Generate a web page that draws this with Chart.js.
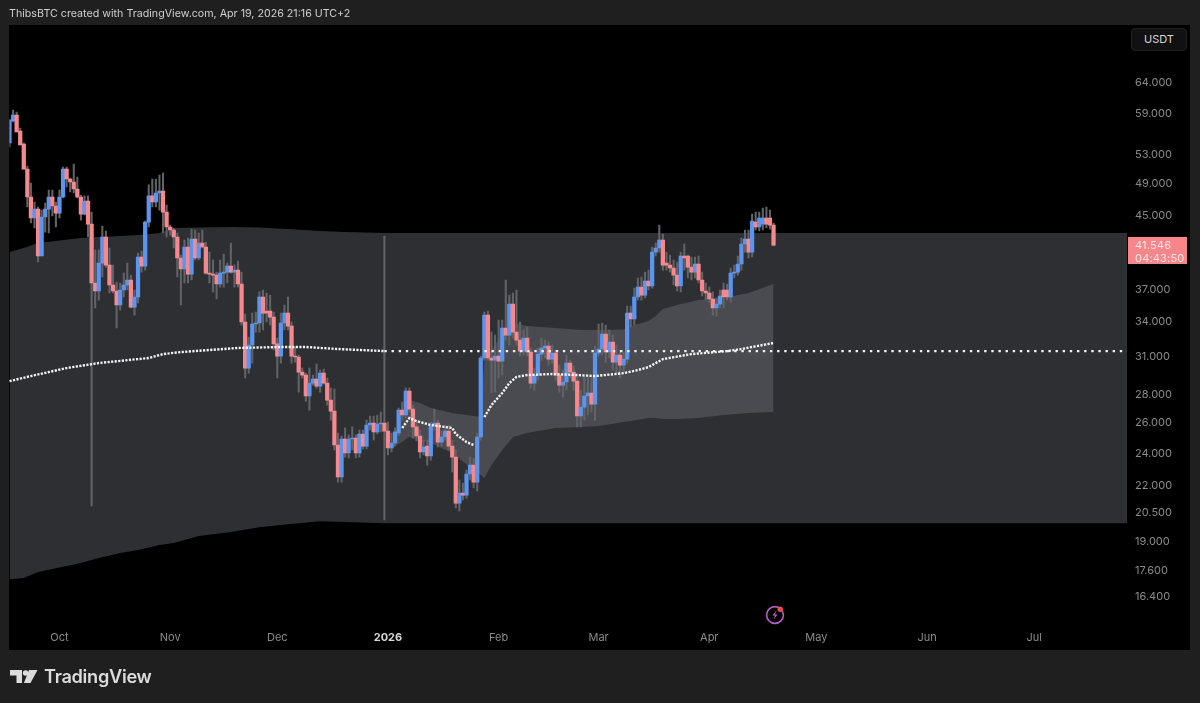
<!DOCTYPE html>
<html>
<head>
<meta charset="utf-8">
<title>ThibsBTC chart</title>
<script src="https://cdn.jsdelivr.net/npm/chart.js@4"></script>
<style>
  html, body { margin: 0; padding: 0; background: #1f1f1f; overflow: hidden; }
  body { width: 1200px; height: 703px; position: relative; font-family: Inter, "Noto Sans", sans-serif; }
  #pane { position: absolute; left: 9px; top: 25px; width: 1181px; height: 625px; background: #000; }
  #levelChart { position: absolute; left: 0; top: 0; }
  #header { position: absolute; left: 9px; top: 6px; font-size: 10.7px; line-height: 15px; color: #cfcfcf; white-space: nowrap; }
  #unit { position: absolute; left: 1131px; top: 28px; width: 54px; height: 21px; line-height: 21px; text-align: center; box-sizing: content-box;
          border: 1px solid #202020; border-radius: 4px; background: #111; color: #d6d6d6; font-size: 11px; }
  #lastPrice { position: absolute; left: 1128px; top: 237px; width: 59px; height: 27px; background: #f7868a; color: #ffe4e5;
               font-size: 11px; line-height: 13px; padding: 2px 0 0 7px; box-sizing: border-box; letter-spacing: 0.2px; white-space: nowrap; }
  #brand { position: absolute; left: 44px; top: 664px; font-size: 18.2px; line-height: 24px; font-weight: 600; color: #dcdcdc; letter-spacing: -0.3px; }
  #logo { position: absolute; left: 10px; top: 669px; }
  #bolt { position: absolute; left: 763px; top: 603px; }
</style>
</head>
<body>
<div id="pane"></div>
<canvas id="levelChart" width="1200" height="703"></canvas>
<div id="header">ThibsBTC created with TradingView.com, Apr 19, 2026 21:16 UTC+2</div>
<div id="unit">USDT</div>
<div id="lastPrice">41.546<br>04:43:50</div>
<svg id="logo" width="28" height="15" viewBox="0 0 28 15">
  <path d="M0 1h12v13H6.5V6.5H0z" fill="#dcdcdc"/>
  <circle cx="15.6" cy="4" r="2.8" fill="#dcdcdc"/>
  <path d="M19 1h8.5L20.5 14h-6.6z" fill="#dcdcdc"/>
</svg>
<div id="brand">TradingView</div>
<svg id="bolt" width="24" height="24" viewBox="0 0 24 24">
  <circle cx="12" cy="12" r="8.4" fill="none" stroke="#b45fc8" stroke-width="1.6"/>
  <path d="M13.4 7.5 9.4 12.6h2.6l-1.4 4 4-5.1H12z" fill="#b45fc8"/>
  <circle cx="17.2" cy="6.2" r="2.7" fill="#f0484c"/>
</svg>

<script>
(function () {
  "use strict";

  var opens = [
    54460, 57720, 58640, 56210, 54310, 50820, 47200, 44640, 45710, 40370,
    44760, 45710, 47200, 46080, 45230, 47200, 50820, 49500, 49110, 48210,
    47200, 45110, 46700, 43930, 37580, 36790, 39620, 42450, 39410, 37380,
    36790, 35450, 36890, 37380, 37880, 35260, 36210, 40260, 39300, 44160,
    47330, 46570, 47700, 47950, 45350, 43590, 43240, 42450, 40150, 39000,
    41340, 38480, 42220, 40150, 41780, 41340, 38580, 38480, 38380, 37480,
    38580, 38680, 39300, 38680, 38890, 37480, 33890, 30000, 31890, 33710,
    33800, 36210, 34890, 34890, 34340, 31980, 30970, 33800, 34700, 33530,
    30970, 30890, 29680, 29450, 27860, 28830, 29140, 28600, 29600, 28830,
    27560, 26770, 24470, 22480, 24860, 23960, 24860, 24920, 23960, 25190,
    24400, 25800, 25940, 25330, 25870, 25940, 25390, 24280, 24600, 25260,
    26840, 26490, 28230, 26910, 25670, 25060, 24020, 24400, 23770, 25730,
    25940, 24660, 24990, 25390, 24400, 23700, 20980, 21550, 21430, 22660,
    23200, 22180, 24990, 30810, 34520, 30810, 30640, 30970, 30560, 33360,
    32740, 35540, 33000, 32310, 31380, 32480, 31300, 28830, 29450, 31130,
    31640, 31800, 30720, 31210, 29450, 28680, 28910, 30400, 29680, 28980,
    26420, 27050, 27860, 28080, 27270, 31210, 31550, 32830, 31300, 32140,
    30480, 31050, 30240, 30720, 34700, 34160, 36210, 37180, 36400, 37780,
    37280, 40790, 41230, 42110, 39620, 39410, 39100, 38380, 37280, 40370,
    40370, 39190, 38680, 39520, 37880, 36790, 36600, 36020, 35170, 35540,
    36890, 36890, 36210, 38580, 38680, 39520, 41670, 42220, 40790, 44160,
    43590, 43930, 44640, 44640, 43810
  ];
  var highs = [
    58020, 59420, 59110, 56660, 54460, 51230, 48980, 46570, 45960, 45590,
    46450, 48080, 48080, 46570, 48080, 51100, 51100, 49630, 51500, 49760,
    47450, 47330, 47330, 45350, 41010, 41010, 43700, 43130, 41230, 39410,
    37680, 37580, 38580, 39620, 38380, 36890, 40690, 40900, 44280, 48730,
    49500, 49500, 50030, 50290, 46200, 43810, 43470, 42900, 40470, 42110,
    42330, 43350, 43240, 42900, 43240, 41890, 40790, 39940, 38680, 39940,
    40580, 39620, 41780, 39410, 39840, 38680, 34610, 32570, 34700, 34800,
    36700, 36890, 36600, 36400, 34800, 32480, 34700, 35450, 36210, 33890,
    31720, 31050, 30000, 29600, 30000, 29450, 30320, 29840, 29920, 29220,
    28450, 28380, 25260, 25060, 25600, 25130, 25670, 25130, 25460, 25460,
    26140, 26420, 26420, 26490, 26700, 42560, 26000, 25260, 25600, 26980,
    27420, 28450, 28450, 27200, 26000, 25460, 24790, 24790, 26000, 26910,
    26140, 25390, 25800, 25800, 24790, 24150, 22300, 22120, 22900, 23700,
    23640, 25260, 30970, 34800, 34890, 33000, 32740, 34070, 34070, 37880,
    36400, 36600, 36890, 33890, 33180, 33450, 31640, 30000, 31640, 32480,
    32310, 32140, 31890, 31470, 30240, 29840, 31050, 30640, 30160, 29450,
    28300, 29300, 29370, 29300, 31800, 33710, 33800, 33620, 33180, 32740,
    31890, 31470, 31300, 35360, 35360, 37080, 38080, 38180, 38680, 38890,
    41340, 41780, 43810, 42780, 40790, 40470, 39940, 39730, 40790, 41670,
    40470, 40260, 40260, 40370, 38680, 37580, 37180, 36700, 36120, 36890,
    37580, 37480, 39100, 39410, 40370, 42330, 43240, 43240, 45110, 45350,
    45350, 45840, 45960, 45590, 44050
  ];
  var lows = [
    53880, 57570, 56070, 54170, 50820, 45960, 44050, 43470, 39730, 40370,
    43010, 42900, 44880, 43590, 44640, 47070, 48470, 47830, 47700, 47070,
    44400, 45000, 42450, 20820, 35170, 35920, 38180, 39190, 36600, 36600,
    33360, 34980, 36210, 36890, 35170, 34520, 35640, 38680, 38890, 43590,
    45960, 45960, 45590, 42900, 42450, 42670, 41230, 38180, 35450, 37580,
    37580, 37880, 39940, 39940, 41230, 38480, 37580, 36700, 36020, 37180,
    37180, 37580, 38580, 37180, 37180, 33620, 29220, 29600, 30400, 33000,
    33000, 33180, 33890, 33620, 31470, 29220, 30400, 33180, 33180, 30400,
    30480, 28150, 29220, 27490, 26840, 28680, 28450, 28150, 28750, 27200,
    26140, 24150, 22180, 22180, 23700, 23640, 24150, 23640, 23700, 24210,
    24210, 25460, 24790, 25190, 25330, 20060, 23830, 24020, 24400, 25060,
    26140, 26280, 26700, 24920, 24730, 23640, 23830, 23200, 23510, 25460,
    24340, 24400, 24790, 24150, 22780, 20710, 20550, 21150, 21260, 22300,
    21840, 21660, 24790, 30640, 30640, 28080, 28150, 29220, 29450, 32310,
    31890, 32480, 31890, 30970, 31050, 30970, 28450, 28300, 29060, 30640,
    30810, 30240, 30400, 29060, 28150, 27780, 28300, 29220, 28300, 25670,
    25670, 26140, 26490, 26700, 26140, 30970, 31050, 30480, 30810, 29840,
    29450, 29220, 29680, 30400, 33450, 33620, 35920, 35920, 36120, 36890,
    37080, 40370, 40790, 38890, 38890, 38680, 37380, 36790, 36700, 38890,
    38080, 37880, 38080, 37580, 36310, 35920, 35640, 34520, 34430, 35170,
    35170, 35920, 35730, 38080, 38380, 38890, 40790, 40150, 40260, 43240,
    43130, 43240, 43470, 43350, 41450
  ];
  var closes = [
    57870, 58640, 56070, 54170, 50820, 47200, 44640, 45710, 40370, 44760,
    45710, 47200, 46080, 45230, 47200, 50820, 49500, 49110, 48210, 47200,
    45110, 46700, 43930, 37580, 36790, 39620, 42450, 39410, 37380, 36790,
    35450, 36890, 37380, 37880, 35260, 36210, 40260, 39300, 44160, 47330,
    46570, 47700, 47950, 45350, 43590, 43240, 42450, 40150, 39000, 41340,
    38480, 42220, 40150, 41780, 41340, 38580, 38480, 38380, 37480, 38580,
    38680, 39300, 38680, 38890, 37480, 33890, 30000, 31890, 33710, 33800,
    36210, 34700, 34700, 34340, 31980, 30970, 33800, 34700, 33530, 30970,
    30890, 29680, 29450, 27860, 28830, 29140, 28600, 29600, 28830, 27560,
    26770, 24470, 22480, 24860, 23960, 24860, 24920, 23960, 25190, 24400,
    25800, 25940, 25330, 25870, 25940, 25390, 24280, 24600, 25330, 26840,
    26490, 28230, 26910, 25670, 25060, 24020, 24340, 23770, 25730, 25940,
    24660, 24990, 25390, 24400, 23700, 20980, 21550, 21430, 22660, 23200,
    22180, 24990, 30810, 34520, 30810, 30640, 30970, 30560, 33360, 32740,
    35540, 33000, 32310, 31380, 32480, 31300, 28830, 29450, 31130, 31640,
    31800, 30720, 31210, 29450, 28680, 28910, 30400, 29680, 28980, 26420,
    27050, 27860, 28080, 27270, 31210, 31550, 32830, 31300, 32140, 30480,
    31050, 30240, 30720, 34700, 34160, 36210, 37180, 36400, 37780, 37280,
    40790, 41230, 42110, 39410, 39410, 39100, 38380, 37280, 40370, 40150,
    39190, 38680, 39520, 37880, 36790, 36600, 36020, 35170, 35540, 36310,
    36210, 36210, 38580, 38680, 39520, 41670, 42220, 40790, 44280, 43590,
    44640, 44640, 43930, 43810, 41546
  ];

  var outerDates = [
    "2025-09-17", "2025-09-21", "2025-09-25", "2025-10-07", "2025-10-12", "2025-10-18",
    "2025-10-23", "2025-10-29", "2025-11-02", "2025-11-09", "2025-11-18", "2025-11-26",
    "2025-12-04", "2025-12-13", "2025-12-20", "2025-12-31", "2026-07-27"
  ];
  var outerUpper = [40790, 41230, 41780, 42330, 42450, 42560, 42670, 42900, 43470, 43530, 43590, 43530, 43350, 43130, 43010, 42900, 42900];
  var outerLower = [17150, 17200, 17480, 17900, 18140, 18380, 18530, 18770, 18870, 19230, 19430, 19680, 19840, 20000, 19950, 19890, 19890];

  var innerDates = [
    "2026-01-02", "2026-01-04", "2026-01-07", "2026-01-10", "2026-01-13", "2026-01-19", "2026-01-25",
    "2026-01-27", "2026-01-28", "2026-01-30", "2026-02-02", "2026-02-05", "2026-02-09", "2026-02-17",
    "2026-02-24", "2026-03-01", "2026-03-08", "2026-03-10", "2026-03-15", "2026-03-17", "2026-03-19",
    "2026-03-23", "2026-03-29", "2026-04-05", "2026-04-12", "2026-04-19"
  ];
  var innerUpper = [24470, 25800, 27560, 27340, 26980, 26630, 26420, 26350, 30640, 31470, 32740, 33800, 33530, 33360, 33180, 33180, 33220, 33530, 33980, 34430, 35080, 35450, 35920, 36120, 36600, 37480];
  var innerLower = [24400, 24530, 24990, 24790, 24600, 23960, 22900, 22600, 22420, 23200, 24150, 24990, 25260, 25600, 25670, 25730, 26000, 26070, 26280, 26280, 26210, 26210, 26280, 26490, 26630, 26700];

  var vwapDates = [
    "2025-09-17", "2025-09-23", "2025-10-03", "2025-10-12", "2025-10-26", "2025-10-30",
    "2025-11-04", "2025-11-20", "2025-12-02", "2025-12-09", "2025-12-18", "2025-12-31"
  ];
  var vwapValues = [28980, 29370, 30000, 30400, 30810, 31130, 31300, 31640, 31720, 31720, 31550, 31380];
  var vwapFlatDates = ["2025-12-31", "2026-07-27"];
  var vwapFlatValues = [31380, 31380];

  var midDates = [
    "2026-01-05", "2026-01-07", "2026-01-09", "2026-01-13", "2026-01-19", "2026-01-20", "2026-01-23",
    "2026-01-25", "2026-01-27", "2026-01-28", "2026-01-30", "2026-02-02", "2026-02-04", "2026-02-06",
    "2026-02-09", "2026-02-16", "2026-02-23", "2026-02-28", "2026-03-08", "2026-03-12", "2026-03-15",
    "2026-03-19", "2026-03-27", "2026-04-06", "2026-04-10", "2026-04-19"
  ];
  var midValues = [25600, 26280, 26070, 25800, 25600, 25190, 24660, 24470, null, 26350, 27200, 28080, 28830, 29300, 29450, 29530, 29450, 29370, 29600, 29840, 30080, 30720, 31130, 31380, 31550, 32060];

  var priceTicks = [64000, 59000, 53000, 49000, 45000, 37000, 34000, 31000, 28000, 26000, 24000, 22000, 20500, 19000, 17600, 16400];
  var monthDates = ["2025-10-01", "2025-11-01", "2025-12-01", "2026-01-01", "2026-02-01", "2026-03-01", "2026-04-01", "2026-05-01", "2026-06-01", "2026-07-01"];
  var monthLabels = ["Oct", "Nov", "Dec", "2026", "Feb", "Mar", "Apr", "May", "Jun", "Jul"];

  var blue = "#5b95ee";
  var red = "#f5898d";
  var wickGray = "#626367";

  // one label per day, Sep 17 to Jul 27
  var dayLabels = [];
  for (var d = Date.UTC(2025, 8, 17); d <= Date.UTC(2026, 6, 27); d += 86400000) {
    dayLabels.push(new Date(d).toISOString().slice(0, 10));
  }

  function series(dates, values) {
    return dates.map(function (date, i) {
      return { x: date, y: values[i] };
    });
  }

  function bandEdge(dates, values, color, fill, order) {
    return {
      type: "line",
      data: series(dates, values),
      borderWidth: 0,
      pointRadius: 0,
      backgroundColor: color,
      fill: fill,
      order: order,
    };
  }

  function dotted(dates, values, dash, order) {
    return {
      type: "line",
      data: series(dates, values),
      borderColor: "#f4f4f4",
      borderWidth: 2.4,
      borderDash: dash,
      pointRadius: 0,
      fill: false,
      spanGaps: false,
      order: order,
    };
  }

  new Chart(document.getElementById("levelChart"), {
    type: "bar",
    data: {
      labels: dayLabels,
      datasets: [
        bandEdge(outerDates, outerUpper, "#2e2f33", "+1", 6),
        bandEdge(outerDates, outerLower, "#2e2f33", false, 6),
        bandEdge(innerDates, innerUpper, "#4a4b50", "+1", 5),
        bandEdge(innerDates, innerLower, "#4a4b50", false, 5),
        {
          data: lows.map(function (low, i) { return [low, highs[i]]; }),
          backgroundColor: wickGray,
          barThickness: 1.4,
          grouped: false,
          order: 4,
        },
        {
          data: opens.map(function (open, i) { return [open, closes[i]]; }),
          backgroundColor: opens.map(function (open, i) { return closes[i] >= open ? blue : red; }),
          barThickness: 3.6,
          grouped: false,
          order: 3,
        },
        dotted(vwapDates, vwapValues, [2.2, 1.37], 1),
        dotted(vwapFlatDates, vwapFlatValues, [2.4, 4.74], 1),
        dotted(midDates, midValues, [2.2, 1.37], 2),
      ],
    },
    options: {
      responsive: false,
      animation: false,
      layout: {
        padding: { top: 25, right: 10, bottom: 53, left: 9.5 },
      },
      scales: {
        x: {
          type: "category",
          offset: false,
          grid: { display: false, drawTicks: false },
          border: { display: false },
          afterBuildTicks: function (scale) {
            scale.ticks = monthDates.map(function (date) {
              return { value: dayLabels.indexOf(date) };
            });
          },
          afterFit: function (scale) {
            scale.height = 25;
          },
          ticks: {
            autoSkip: false,
            maxRotation: 0,
            padding: 6,
            color: function (ctx) {
              return ctx.tick && ctx.tick.label === "2026" ? "#d8d8d8" : "#8b8b8b";
            },
            font: function (ctx) {
              var bold = ctx.tick && ctx.tick.label === "2026";
              return { family: "Inter", size: 11, weight: bold ? "700" : "400" };
            },
            callback: function (value, index) {
              return monthLabels[index];
            },
          },
        },
        y: {
          type: "logarithmic",
          position: "right",
          min: 15190,
          max: 74430,
          grid: { display: false, drawTicks: false },
          border: { display: false },
          afterBuildTicks: function (scale) {
            scale.ticks = priceTicks.map(function (value) {
              return { value: value };
            });
          },
          afterFit: function (scale) {
            scale.width = 63;
          },
          ticks: {
            autoSkip: false,
            padding: 8,
            labelOffset: 1,
            color: "#8b8b8b",
            font: { family: "Inter", size: 11 },
            callback: function (value) {
              return (value / 1000).toFixed(3);
            },
          },
        },
      },
      plugins: {
        legend: { display: false },
        tooltip: { enabled: false },
      },
    },
  });
})();
</script>
</body>
</html>
